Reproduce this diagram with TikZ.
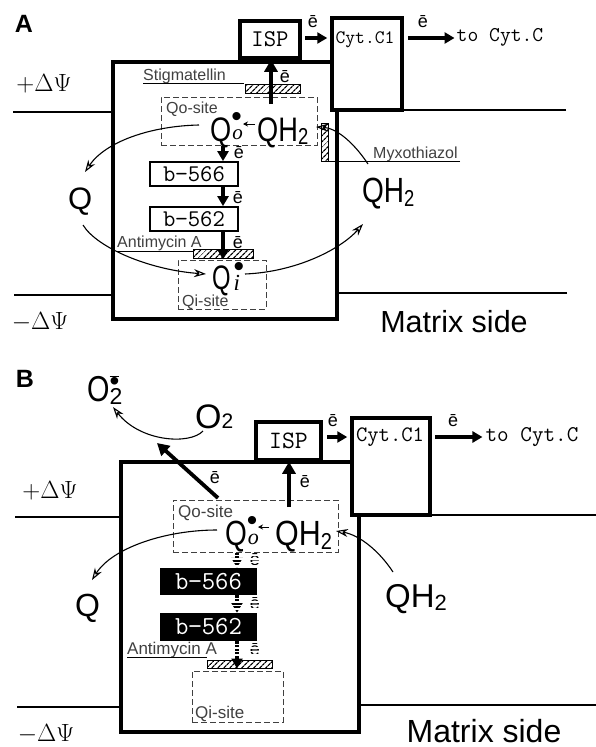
\documentclass[tikz,border=0pt]{standalone}
\usepackage{fontspec}
\setmainfont{Liberation Sans}
\newfontfamily\serifit{Liberation Serif}
\usepackage{graphicx}
\usetikzlibrary{arrows.meta,patterns.meta}
\newcommand\fs[1]{\fontsize{#1}{#1}\selectfont}
\newcommand\cq[2]{\scalebox{#1}[1]{#2}}
\tikzset{
  mainbox/.style={draw, line width=4pt, inner sep=0pt, anchor=north west},
  protbox/.style={draw, line width=3.5pt, inner sep=0pt, fill=white},
  memline/.style={line width=1.8pt},
  sitebox/.style={draw=black!75, line width=1pt, dash pattern=on 6pt off 3pt, inner sep=0pt},
  bboxA/.style={draw, line width=1.8pt, inner sep=0pt, font=\ttfamily\fs{24}},
  bboxB/.style={fill=black, inner sep=0pt, text=white, font=\ttfamily\fs{26}},
  smalllbl/.style={inner sep=0pt, anchor=base west, text=black!75, font=\fs{16}},
  elbl/.style={inner sep=0pt, font=\fs{18}},
  bigtxt/.style={inner sep=0pt, anchor=base west},
  ttlbl/.style={inner sep=0pt, font=\ttfamily\fs{21}},
  psilbl/.style={inner sep=0pt},
  fatarrow/.style={line width=3.8pt, -{Triangle[length=12pt,width=13pt]}},
  midarrow/.style={line width=3.2pt, -{Triangle[length=10pt,width=11pt]}},
  curvearrow/.style={line width=1.1pt, -{Stealth[open,length=12pt,width=8pt]}},
  tinyarrow/.style={line width=0.8pt, -{Stealth[length=5pt,width=5pt]}},
  hatchbar/.style={draw, line width=1pt, inner sep=0pt, pattern={Lines[angle=45,distance=4pt,line width=1.3pt]}},
  underl/.style={line width=1pt},
}
\begin{document}
\begin{tikzpicture}[x=1pt,y=-1pt]
\useasboundingbox (0,0) rectangle (596,747);
% ================= Panel A =================
\node[inner sep=0pt, font=\bfseries\fs{25}] (labA) at (24,24) {A};
\coordinate (mA1) at (13,112);
\coordinate (mA2) at (566,110);
\coordinate (mA3) at (14,295);
\coordinate (mA4) at (567,293);
\node[mainbox, minimum width=224, minimum height=257] (mainA) at (111,60) {};
\node[protbox, minimum width=60, minimum height=37, font=\ttfamily\fs{24}] (ispA) at (270,39.5) {ISP};
\node[protbox, minimum width=70, minimum height=92] (cytA) at (367,64) {};
\node[ttlbl, font=\ttfamily\fs{19}] (cytAt) at (365,40) {Cyt.C1};
\node[ttlbl, font=\ttfamily\fs{21}] (tocA) at (500,37) {to Cyt.C};
\draw[memline] (mA1) -- (mA1 -| mainA.west);
\draw[memline] (mA2) -- (mA2 -| cytA.east);
\draw[memline] (mA3) -- (mA3 -| mainA.west);
\draw[memline] (mA4) -- (mA4 -| mainA.east);
\coordinate (arA1) at (305,38);
\coordinate (arA2) at (408,38);
\draw[midarrow] (arA1) -- ([xshift=-3]arA1 -| cytA.west);
\draw[midarrow] (arA2) -- ([xshift=-2]arA2 -| tocA.west);
\node[elbl] (eA1) at (313,22) {ē};
\node[elbl] (eA2) at (423,22) {ē};
\node[psilbl, font=\fs{27.5}] (ppA) at (44,84) {$+\Delta\Psi$};
\node[psilbl, font=\fs{27.5}] (npA) at (40,322) {$-\Delta\Psi$};
\node[inner sep=0pt, font=\fs{30.5}] (matA) at (454,322) {Matrix side};
% Qo site
\node[sitebox, minimum width=156, minimum height=48] (qosA) at (239,121) {};
\node[smalllbl] (qoslA) at (166,113) {Qo-site};
\node[hatchbar, minimum width=55, minimum height=9] (stigbar) at (272.5,88.5) {};
\node[smalllbl] (stigl) at (143,80) {Stigmatellin};
\coordinate (stigu) at (143,83.5);
\draw[underl] (stigu) -- (stigu -| stigbar.west);
\coordinate (upA) at (271,104);
\draw[fatarrow] (upA) -- (upA |- ispA.south);
\node[elbl] (eupA) at (285,77) {ē};
\node[bigtxt] (qoA) at (210,141) {\fs{34}\cq{0.8}{Q}\rlap{\raisebox{0.42em}{\fs{30}•}}\raisebox{0.05em}{\hspace{1pt}\serifit\itshape\fs{21}o}};
\node[bigtxt] (qhA) at (257,141) {\fs{34}\cq{0.8}{QH\raisebox{-0.1em}{\fs{23}2}}};
\coordinate (saA1) at (255,124);
\coordinate (saA2) at (243,124);
\draw[tinyarrow] (saA1) -- (saA2);
% Myxothiazol
\node[hatchbar, minimum width=7, minimum height=38] (myxbar) at (324.5,142) {};
\node[smalllbl] (myxl) at (373,158) {Myxothiazol};
\coordinate (myxu) at (460,161);
\draw[underl] (myxu) -- (myxu -| myxbar.east);
% b cytochromes
\node[bboxA, minimum width=88, minimum height=24] (b566A) at (194,174) {b−566};
\node[bboxA, minimum width=88, minimum height=24] (b562A) at (194,219) {b−562};
\node[hatchbar, minimum width=60, minimum height=9] (antbarA) at (223,253.5) {};
\node[smalllbl] (antlA) at (117,247) {Antimycin A};
\coordinate (antuA) at (117,251);
\draw[underl] (antuA) -- (antuA -| antbarA.west);
\node[sitebox, minimum width=88, minimum height=49] (qisA) at (222,284.5) {};
\node[smalllbl] (qislA) at (182,306) {Qi-site};
\node[bigtxt] (qiA) at (212,289) {\fs{34}\cq{0.7}{Q}\rlap{\raisebox{0.36em}{\hspace{3pt}\fs{30}•}}\raisebox{-0.05em}{\hspace{3pt}\serifit\itshape\fs{23}i}};
\coordinate (axA) at (223,0);
\draw[midarrow] (qosA.south -| axA) -- (b566A.north -| axA);
\draw[midarrow] (b566A.south -| axA) -- (b562A.north -| axA);
\draw[midarrow] (b562A.south -| axA) -- (qisA.north -| axA);
\node[elbl] (eA3) at (239,153) {ē};
\node[elbl] (eA4) at (238,198) {ē};
\node[elbl] (eA5) at (238,243) {ē};
% outer labels
\node[bigtxt, font=\fs{31}] (qlA) at (68,209) {Q};
\node[bigtxt] (qhrA) at (362,202) {\fs{35}\cq{0.8}{QH\raisebox{-0.12em}{\fs{23}2}}};
% curves
\coordinate (cA1s) at (199,125);
\coordinate (cA1e) at (85,172);
\draw[curvearrow] (cA1s) .. controls (150,126) and (105,142) .. (cA1e);
\coordinate (cA2s) at (368,164);
\coordinate (cA2e) at (316,127);
\draw[curvearrow] (cA2s) .. controls (352,140) and (335,128) .. (cA2e);
\coordinate (cA3s) at (83,225);
\coordinate (cA3e) at (206,274);
\draw[curvearrow] (cA3s) .. controls (97,248) and (150,270) .. (cA3e);
\coordinate (cA4s) at (245,274);
\coordinate (cA4e) at (363,224);
\draw[curvearrow] (cA4s) .. controls (295,272) and (340,250) .. (cA4e);
% ================= Panel B =================
\node[inner sep=0pt, font=\bfseries\fs{25}] (labB) at (25,379) {B};
\coordinate (mB1) at (15,517);
\coordinate (mB2) at (596,515);
\coordinate (mB3) at (17,707);
\coordinate (mB4) at (596,705);
\node[mainbox, minimum width=238, minimum height=270] (mainB) at (119,460) {};
\node[protbox, minimum width=65, minimum height=38, font=\ttfamily\fs{25}] (ispB) at (288.5,441) {ISP};
\node[protbox, minimum width=78, minimum height=97] (cytB) at (391,466.5) {};
\node[ttlbl, font=\ttfamily\fs{22}] (cytBt) at (390,437) {Cyt.C1};
\node[ttlbl, font=\ttfamily\fs{22.5}] (tocB) at (532,437) {to Cyt.C};
\draw[memline] (mB1) -- (mB1 -| mainB.west);
\draw[memline] (mB2) -- (mB2 -| cytB.east);
\draw[memline] (mB3) -- (mB3 -| mainB.west);
\draw[memline] (mB4) -- (mB4 -| mainB.east);
\coordinate (arB1) at (327,437);
\coordinate (arB2) at (435,437);
\draw[midarrow] (arB1) -- ([xshift=-3]arB1 -| cytB.west);
\draw[midarrow] (arB2) -- ([xshift=-3]arB2 -| tocB.west);
\node[elbl] (eB1) at (333,421) {ē};
\node[elbl] (eB2) at (453,421) {ē};
\node[psilbl, font=\fs{29}] (ppB) at (50,491) {$+\Delta\Psi$};
\node[psilbl, font=\fs{29}] (npB) at (46,734) {$-\Delta\Psi$};
\node[inner sep=0pt, font=\fs{32}] (matB) at (484,731) {Matrix side};
% Qo site B
\node[sitebox, minimum width=165, minimum height=52] (qosB) at (255.5,526) {};
\node[smalllbl, font=\fs{17}] (qoslB) at (178,517) {Qo-site};
\node[bigtxt] (qoB) at (225,545) {\fs{35}\cq{0.8}{Q}\rlap{\raisebox{0.42em}{\fs{30}•}}\raisebox{0.02em}{\hspace{1pt}\serifit\itshape\fs{22}o}};
\node[bigtxt] (qhB) at (275,545) {\fs{35}\cq{0.87}{QH\raisebox{-0.12em}{\fs{23}2}}};
\coordinate (saB1) at (269,527);
\coordinate (saB2) at (258,527);
\draw[tinyarrow] (saB1) -- (saB2);
\coordinate (upB) at (289,507);
\draw[fatarrow] (upB) -- (upB |- ispB.south);
\node[elbl] (eupB) at (305,482) {ē};
% superoxide
\node[bigtxt] (sox) at (87,401) {\fs{36}\cq{0.8}{O}\rlap{\raisebox{0.3em}{$\overline{\hbox{\fs{28}•}}$}}\raisebox{-0.11em}{\fs{23}2}};
\node[bigtxt] (oxy) at (195,428) {\fs{34}O\fs{21}2};
\coordinate (oc1) at (203,431);
\coordinate (oc2) at (113,407);
\draw[curvearrow] (oc1) .. controls (190,445) and (140,442) .. (oc2);
\coordinate (dgB) at (218,498);
\coordinate (dgBe) at (157,443);
\draw[fatarrow] (dgB) -- (dgBe);
\node[elbl] (edg) at (215,478) {ē};
% b cytochromes B
\node[bboxB, minimum width=97, minimum height=27] (b566B) at (208.5,581.5) {b−566};
\node[bboxB, minimum width=97, minimum height=28] (b562B) at (208.5,627) {b−562};
\node[hatchbar, minimum width=65, minimum height=8] (antbarB) at (239.5,664) {};
\node[smalllbl, font=\fs{17}] (antlB) at (127,654) {Antimycin A};
\coordinate (antuB) at (127,657.5);
\draw[underl] (antuB) -- (antuB -| antbarB.west);
\node[sitebox, minimum width=91, minimum height=51] (qisB) at (237.5,696.5) {};
\node[smalllbl, font=\fs{17}] (qislB) at (195,718) {Qi-site};
\coordinate (axB) at (237,0);
\draw[midarrow] (qosB.south -| axB) -- (b566B.north -| axB);
\draw[midarrow] (b566B.south -| axB) -- (b562B.north -| axB);
\draw[midarrow] (b562B.south -| axB) -- (antbarB.south -| axB);
\node[elbl] (eB3) at (255,560) {ē};
\node[elbl] (eB4) at (255,604) {ē};
\node[elbl] (eB5) at (255,650) {ē};
\foreach \yy in {555.5,559,562.5,566,598.5,602,605.5,609,644.5,648,651.5,655}
  \draw[white, line width=1.1pt] (229,\yy) -- (263,\yy);
% outer labels B
\node[bigtxt, font=\fs{32}] (qlB) at (75,616) {Q};
\node[bigtxt] (qhrB) at (385,607) {\fs{33}QH\raisebox{-0.12em}{\fs{22}2}};
\coordinate (cB1s) at (217,530);
\coordinate (cB1e) at (92,580);
\draw[curvearrow] (cB1s) .. controls (165,530) and (112,548) .. (cB1e);
\coordinate (cB2s) at (393,572);
\coordinate (cB2e) at (336,531);
\draw[curvearrow] (cB2s) .. controls (380,552) and (360,535) .. (cB2e);
\end{tikzpicture}
\end{document}
